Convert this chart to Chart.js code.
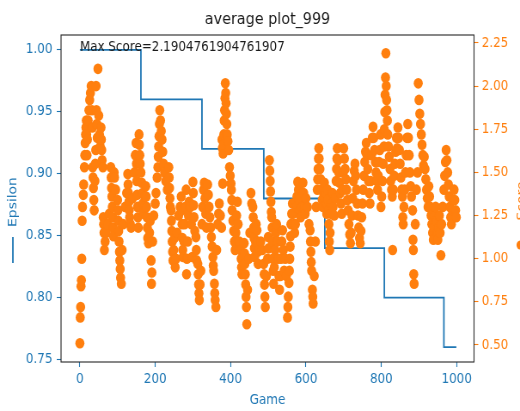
<!DOCTYPE html>
<html><head><meta charset="utf-8">
<script src="https://cdn.jsdelivr.net/npm/chart.js@4.4.0/dist/chart.umd.min.js"></script>
<style>
html,body{margin:0;padding:0;background:#fff;overflow:hidden;width:520px;height:411px;}
#wrap{width:605px;height:411px;transform:scaleX(0.8595);transform-origin:0 0;}
canvas{display:block;}
</style></head><body>
<div id="wrap"><canvas id="c" width="605" height="411"></canvas></div>
<script>
const chartTitle = 'average plot_999';
const maxScoreLabel = 'Max Score=2.1904761904761907';
const xLabel = 'Game';
const epsLabel = 'Epsilon';
const scoreLabel = 'Score';

const epsGames  = [0, 162, 324, 488, 650, 808, 966, 999];
const epsValues = [1.00, 0.96, 0.92, 0.88, 0.84, 0.80, 0.76, 0.76];

const xTicks = [0, 200, 400, 600, 800, 1000];
const epsTicks = [0.75, 0.80, 0.85, 0.90, 0.95, 1.00];
const scoreTicks = [0.50, 0.75, 1.00, 1.25, 1.50, 1.75, 2.00, 2.25];

const scoreGames = [
0,1,2,3,4,5,6,7,9,10,12,13,14,15,16,17,18,19,20,22,24,26,28,30,32,33,34,35,36,37,38,40,41,42,43,44,45,46,48,50,52,54,56,57,58,59,61,62,63,64,65,67,70,74,78,82,83,84,85,86,87,88,89,91,92,95,
100,101,102,103,104,105,106,107,108,110,112,115,120,124,127,128,129,130,131,132,134,136,140,145,147,149,150,151,152,153,154,155,157,158,159,160,162,164,166,167,168,170,172,175,176,177,178,179,180,182,185,187,189,190,191,193,196,
200,202,205,207,208,209,210,211,212,214,216,218,220,222,225,228,232,236,237,238,239,240,242,243,244,245,246,247,249,251,253,255,258,262,266,269,270,271,272,273,274,276,278,280,282,283,284,286,288,290,293,296,298,
300,301,302,303,305,308,309,310,313,314,315,316,317,319,321,324,326,328,330,332,334,336,339,341,343,345,347,349,351,353,354,355,357,358,359,361,363,366,368,370,373,376,377,378,379,380,381,382,383,384,385,386,387,388,389,390,391,393,395,397,399,
401,402,403,404,406,408,410,412,414,416,418,420,423,426,428,429,430,433,436,437,438,439,440,441,442,443,445,448,451,454,456,459,460,461,462,463,464,466,468,470,471,472,473,476,480,484,488,489,490,491,492,495,498,
500,501,503,504,505,506,507,508,509,510,511,512,513,514,516,518,520,522,524,526,528,530,532,534,536,538,540,542,545,548,551,552,553,555,556,557,558,559,560,562,564,566,568,570,572,574,576,578,580,582,584,586,588,590,592,594,596,598,
600,604,608,611,612,613,614,615,617,618,619,622,625,627,630,631,632,633,634,635,637,639,641,643,645,647,649,651,653,655,657,658,660,661,662,663,664,666,668,670,672,675,678,680,681,682,683,685,687,689,691,693,695,697,699,
700,702,704,706,708,710,712,714,716,718,720,722,724,726,728,730,732,734,736,738,740,742,744,746,748,750,752,754,756,758,760,762,764,766,768,770,772,774,776,778,780,782,784,786,788,790,792,794,796,798,799,
801,803,805,807,808,809,810,811,812,813,814,815,816,817,819,821,823,825,827,829,830,832,834,836,838,840,842,844,846,848,850,852,854,856,857,858,860,862,864,866,868,870,872,874,876,878,880,883,884,885,886,887,890,893,896,898,
900,902,904,906,908,910,912,914,916,918,920,922,924,926,928,930,932,934,936,938,940,942,944,946,948,950,952,954,956,958,960,963,966,968,970,972,974,976,978,980,982,984,986,988,990,993,995,997,999
];
const scoreValues = [
0.51,0.66,0.72,0.84,0.875,1.00,1.22,1.30,1.37,1.43,1.53,1.60,1.67,1.72,1.76,1.80,1.72,1.60,1.69,1.80,1.86,1.92,1.96,2.00,1.86,1.76,1.53,1.47,1.41,1.34,1.28,1.45,1.55,1.63,2.00,1.86,1.78,1.70,2.10,1.83,1.72,1.65,1.76,1.69,1.63,1.57,1.53,1.24,1.20,1.15,1.05,1.10,1.15,1.20,1.26,1.53,1.47,1.41,1.36,1.30,1.24,1.18,1.13,1.50,1.47,1.40,
1.34,1.28,1.22,1.16,1.10,1.04,0.99,0.94,0.89,0.855,1.05,1.20,1.30,1.38,1.49,1.43,1.38,1.33,1.28,1.24,1.20,1.18,1.35,1.50,1.60,1.67,1.55,1.45,1.37,1.30,1.24,1.18,1.72,1.66,1.60,1.55,1.50,1.44,1.38,1.32,1.26,1.30,1.36,1.42,1.36,1.30,1.24,1.18,1.12,1.09,1.15,1.22,0.99,0.855,0.92,1.10,1.25,
1.32,1.38,1.47,1.53,1.59,1.65,1.71,1.78,1.86,1.80,1.74,1.69,1.62,1.55,1.50,1.45,1.40,1.53,1.47,1.41,1.35,1.30,1.28,1.22,1.16,1.10,1.04,0.99,1.05,1.12,0.95,1.00,1.15,1.25,1.30,1.36,1.28,1.20,1.12,1.05,1.01,1.10,1.20,1.30,1.40,0.91,1.00,1.10,1.25,1.33,1.30,1.20,1.01,
1.445,1.38,1.31,1.24,1.16,1.125,1.05,0.99,0.97,0.91,0.85,0.80,0.76,0.85,0.93,1.20,1.30,1.40,1.44,1.35,1.26,1.18,1.43,1.37,1.30,1.24,1.18,1.125,1.07,1.01,0.96,0.93,0.855,0.80,0.76,0.72,1.05,1.20,1.26,1.32,1.25,1.18,1.69,1.64,1.435,1.61,1.66,1.72,1.80,1.86,1.93,2.016,1.96,1.90,1.84,1.78,1.72,1.68,1.63,1.53,1.48,
1.435,1.40,1.34,1.28,1.22,1.16,1.10,1.05,1.15,1.25,1.33,1.20,1.10,1.05,1.00,0.95,0.91,1.00,1.09,1.03,0.97,0.91,0.85,0.78,0.72,0.62,0.82,1.00,1.15,1.38,1.32,1.30,1.24,1.18,1.12,1.06,1.01,1.10,1.20,1.165,1.10,1.04,0.97,1.05,1.10,1.05,0.97,0.91,0.85,0.78,0.72,0.90,1.00,
1.125,1.06,1.57,1.51,1.45,1.39,1.33,1.27,1.24,1.18,1.10,1.00,0.93,0.855,0.95,1.05,1.15,1.20,1.10,1.00,0.90,0.82,0.90,1.00,1.10,1.165,1.05,0.93,1.00,0.90,0.66,0.72,0.78,0.86,0.93,1.00,1.07,1.13,1.20,1.26,1.32,1.26,1.20,1.15,1.20,1.30,1.36,1.445,1.40,1.34,1.28,1.24,1.30,1.38,1.44,1.38,1.30,1.26,
1.35,1.30,1.20,1.165,1.10,1.04,0.98,0.93,0.82,0.78,0.74,0.90,1.10,1.30,1.40,1.46,1.52,1.58,1.64,1.58,1.52,1.46,1.40,1.34,1.30,1.36,1.44,1.38,1.32,1.26,1.40,1.34,1.28,1.20,1.10,1.05,1.15,1.26,1.32,1.38,1.30,1.25,1.35,1.45,1.52,1.58,1.64,1.57,1.50,1.44,1.38,1.32,1.26,1.40,1.50,
1.64,1.58,1.52,1.46,1.40,1.34,1.28,1.20,1.14,1.09,1.15,1.25,1.35,1.45,1.51,1.55,1.48,1.40,1.32,1.25,1.18,1.12,1.09,1.16,1.24,1.32,1.40,1.48,1.56,1.62,1.67,1.60,1.52,1.45,1.38,1.32,1.45,1.60,1.70,1.764,1.70,1.63,1.56,1.50,1.45,1.40,1.48,1.56,1.63,1.72,1.30,
1.36,1.45,1.55,1.65,1.75,1.85,1.95,2.05,2.19,2.00,1.92,1.86,1.80,1.72,1.65,1.59,1.52,1.45,1.40,1.36,1.05,1.40,1.48,1.55,1.62,1.70,1.64,1.76,1.70,1.63,1.55,1.47,1.40,1.36,1.24,1.20,1.30,1.40,1.50,1.60,1.70,1.78,1.70,1.60,1.50,1.42,1.36,1.28,1.11,1.05,0.91,0.855,1.20,1.40,1.50,2.016,
1.92,1.84,1.78,1.72,1.66,1.60,1.54,1.59,1.52,1.46,1.40,1.35,1.30,1.42,1.36,1.30,1.25,1.20,1.15,1.11,1.18,1.25,1.30,1.22,1.15,1.11,1.18,1.25,1.15,1.02,1.20,1.30,1.40,1.48,1.56,1.63,1.57,1.50,1.43,1.36,1.30,1.24,1.20,1.28,1.34,1.40,1.34,1.28,1.24
];

const C0 = '#1f77b4', C1 = '#ff7f0e';
const FONT = '"DejaVu Sans", sans-serif';
Chart.defaults.font.family = FONT;

const decor = {
  id: 'decor',
  afterDatasetsDraw(chart) {
    const {ctx, chartArea: a, scales} = chart;
    ctx.save();
    ctx.strokeStyle = '#262626';
    ctx.lineWidth = 1.1;
    ctx.strokeRect(a.left, a.top, a.right - a.left, a.bottom - a.top);

    ctx.fillStyle = '#1a1a1a';
    ctx.font = '13.9px ' + FONT;
    ctx.textAlign = 'left';
    ctx.textBaseline = 'alphabetic';
    ctx.fillText(maxScoreLabel, scales.x.getPixelForValue(0), scales.yEps.getPixelForValue(1.0) + 1);

    ctx.font = '16.7px ' + FONT;
    ctx.textAlign = 'center';
    ctx.textBaseline = 'middle';
    ctx.fillText(chartTitle, (a.left + a.right) / 2, 20);

    ctx.fillStyle = C0;
    ctx.font = '13.9px ' + FONT;
    ctx.fillText(xLabel, (a.left + a.right) / 2, 400);

    ctx.save();
    ctx.translate(15.5, 0);
    ctx.rotate(-Math.PI / 2);
    ctx.fillStyle = C0;
    ctx.fillText(epsLabel, -202, 0);
    ctx.strokeStyle = C0;
    ctx.lineWidth = 1.8;
    ctx.beginPath();
    ctx.moveTo(-237, -0.5);
    ctx.lineTo(-263, -0.5);
    ctx.stroke();
    ctx.restore();

    ctx.save();
    ctx.translate(607.5, 0);
    ctx.rotate(-Math.PI / 2);
    ctx.fillStyle = C1;
    ctx.fillText(scoreLabel, -201, 0);
    ctx.beginPath();
    ctx.arc(-245, -2, 4.6, 0, Math.PI * 2);
    ctx.fill();
    ctx.restore();
    ctx.restore();
  }
};

new Chart(document.getElementById('c'), {
  data: {
    datasets: [
      {
        type: 'line',
        label: epsLabel,
        data: epsGames.map((g, i) => ({x: g, y: epsValues[i]})),
        yAxisID: 'yEps',
        borderColor: C0,
        borderWidth: 1.8,
        pointRadius: 0,
        stepped: 'before',
        fill: false,
        order: 1
      },
      {
        type: 'scatter',
        label: scoreLabel,
        data: scoreGames.map((g, i) => ({x: g, y: scoreValues[i]})),
        yAxisID: 'yScore',
        backgroundColor: C1,
        borderColor: C1,
        pointBackgroundColor: C1,
        pointBorderColor: C1,
        pointBorderWidth: 0,
        pointRadius: 5.3,
        order: 0
      }
    ]
  },
  options: {
    responsive: false,
    animation: false,
    events: [],
    layout: {padding: {top: 35, left: 0, right: 0, bottom: 0}},
    plugins: {legend: {display: false}, title: {display: false}, tooltip: {enabled: false}},
    scales: {
      x: {
        type: 'linear', position: 'bottom', min: -50, max: 1046,
        afterBuildTicks: s => { s.ticks = xTicks.map(v => ({value: v})); },
        afterFit: s => { s.height = 49; },
        grid: {drawOnChartArea: false, tickLength: 5, tickColor: C0, tickWidth: 1.1},
        border: {display: false},
        ticks: {color: C0, font: {size: 13.9}, padding: 4, maxRotation: 0, autoSkip: false, callback: v => String(v)}
      },
      yEps: {
        type: 'linear', position: 'left', min: 0.748, max: 1.012,
        afterBuildTicks: s => { s.ticks = epsTicks.map(v => ({value: v})); },
        afterFit: s => { s.width = 71; },
        grid: {drawOnChartArea: false, tickLength: 5, tickColor: C0, tickWidth: 1.1},
        border: {display: false},
        ticks: {color: C0, font: {size: 13.9}, padding: 5, autoSkip: false, callback: v => Number(v).toFixed(2)}
      },
      yScore: {
        type: 'linear', position: 'right', min: 0.4015, max: 2.296,
        afterBuildTicks: s => { s.ticks = scoreTicks.map(v => ({value: v})); },
        afterFit: s => { s.width = 53.5; },
        grid: {drawOnChartArea: false, tickLength: 5, tickColor: C1, tickWidth: 1.1},
        border: {display: false},
        ticks: {color: C1, font: {size: 13.9}, padding: 4, autoSkip: false, callback: v => Number(v).toFixed(2)}
      }
    }
  },
  plugins: [decor]
});
</script>
</body></html>
